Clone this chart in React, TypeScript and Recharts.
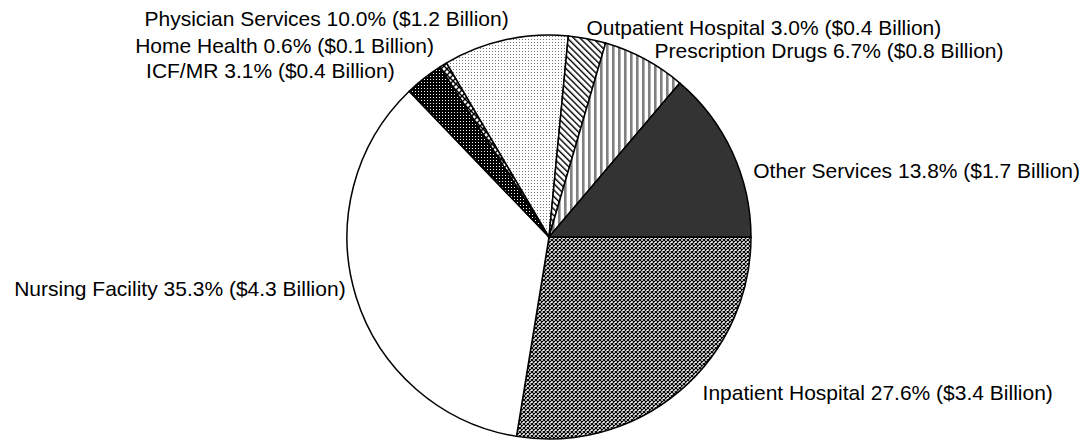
import { PieChart, Pie, Cell } from 'recharts';

const CATEGORIES = [
  'Inpatient Hospital',
  'Nursing Facility',
  'ICF/MR',
  'Home Health',
  'Physician Services',
  'Outpatient Hospital',
  'Prescription Drugs',
  'Other Services',
];
const PERCENTS = [27.6, 35.3, 3.1, 0.6, 10.0, 3.0, 6.7, 13.8];
const BILLIONS = [3.4, 4.3, 0.4, 0.1, 1.2, 0.4, 0.8, 1.7];

const FILLS = [
  'url(#pInpatient)',
  '#ffffff',
  'url(#pIcf)',
  'url(#pHome)',
  'url(#pPhysician)',
  'url(#pOutpatient)',
  'url(#pRx)',
  '#333333',
];

// hand tuned label nudges (Excel best-fit placement)
const LABEL_NUDGE: Record<string, [number, number]> = {
  'Inpatient Hospital': [15, -8],
  'Nursing Facility': [1, -12],
  'ICF/MR': [-22, 2],
  'Home Health': [-3, -9],
  'Physician Services': [6, -10],
  'Outpatient Hospital': [-3, 1],
  'Prescription Drugs': [4, 2],
  'Other Services': [10, 23],
};

const rows = CATEGORIES.map((name, i) => ({
  name,
  value: PERCENTS[i],
  billion: BILLIONS[i],
}));

const RAD = Math.PI / 180;

function renderLabel(props: any) {
  const { cx, cy, midAngle, outerRadius, name, value, payload } = props;
  const r = outerRadius + 12;
  const cos = Math.cos(-midAngle * RAD);
  const sin = Math.sin(-midAngle * RAD);
  const [dx, dy] = LABEL_NUDGE[name] || [0, 0];
  const x = cx + r * cos + dx;
  const y = cy + r * sin + dy;
  return (
    <text
      x={x}
      y={y}
      textAnchor={cos >= 0 ? 'start' : 'end'}
      dominantBaseline="central"
      fill="#000"
      fontSize={21}
      fontFamily="'Liberation Sans', Arial, sans-serif"
    >
      {`${name} ${value.toFixed(1)}% ($${payload.billion.toFixed(1)} Billion)`}
    </text>
  );
}

export default function App() {
  return (
    <div style={{ position: 'fixed', left: 0, top: 0, background: '#fff' }}>
      <PieChart width={1091} height={443} margin={{ top: 0, right: 0, bottom: 0, left: 0 }}>
        <defs>
          <pattern id="pInpatient" width="4" height="4" patternUnits="userSpaceOnUse">
            <rect width="4" height="4" fill="#fff" />
            <path d="M0,0 L4,4 M4,0 L0,4" stroke="#000" strokeWidth="1.2" />
          </pattern>
          <pattern id="pIcf" width="3" height="3" patternUnits="userSpaceOnUse">
            <rect width="3" height="3" fill="#000" />
            <rect x="1" y="1" width="1" height="1" fill="#fff" />
          </pattern>
          <pattern id="pHome" width="6" height="6" patternUnits="userSpaceOnUse">
            <rect width="6" height="6" fill="#fff" />
            <path d="M0,0 L6,6 M6,0 L0,6" stroke="#000" strokeWidth="1.5" />
          </pattern>
          <pattern id="pPhysician" width="3" height="3" patternUnits="userSpaceOnUse">
            <rect width="3" height="3" fill="#fff" />
            <rect x="0" y="0" width="1" height="1" fill="#777" />
          </pattern>
          <pattern
            id="pOutpatient"
            width="4.5"
            height="4.5"
            patternUnits="userSpaceOnUse"
            patternTransform="rotate(-45)"
          >
            <rect width="4.5" height="4.5" fill="#fff" />
            <rect x="0" y="0" width="1.4" height="4.5" fill="#000" />
          </pattern>
          <pattern id="pRx" width="6" height="6" patternUnits="userSpaceOnUse">
            <rect width="6" height="6" fill="#fff" />
            <rect x="0" y="0" width="2.6" height="6" fill="#808080" />
          </pattern>
        </defs>
        <Pie
          data={rows}
          dataKey="value"
          nameKey="name"
          cx={549}
          cy={237}
          outerRadius={202}
          startAngle={0}
          endAngle={-360}
          stroke="#000"
          strokeWidth={1.5}
          label={renderLabel}
          labelLine={false}
          isAnimationActive={false}
        >
          {rows.map((r, i) => (
            <Cell key={r.name} fill={FILLS[i]} />
          ))}
        </Pie>
      </PieChart>
    </div>
  );
}
